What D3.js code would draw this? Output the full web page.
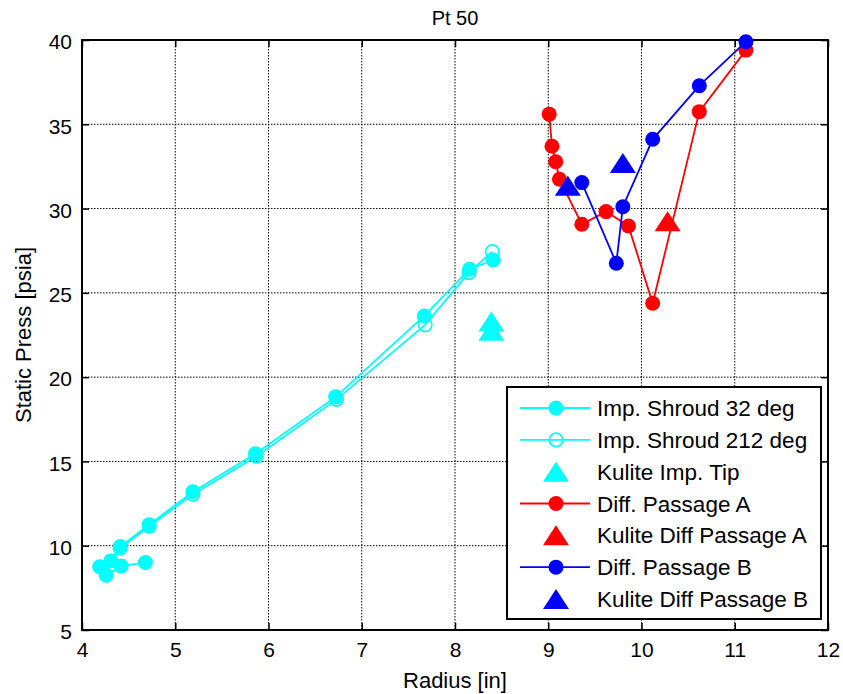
<!DOCTYPE html>
<html>
<head>
<meta charset="utf-8">
<script src="https://cdn.jsdelivr.net/npm/d3@7"></script>
<style>
  html, body { margin: 0; padding: 0; background: #fff; }
  svg { display: block; }
  text { font-family: "Liberation Sans", Arial, sans-serif; fill: #000; }
</style>
</head>
<body>
<svg id="chart" width="843" height="694"></svg>
<script>
// ---- Data ----
const xTicks = [4, 5, 6, 7, 8, 9, 10, 11, 12];
const yTicks = [5, 10, 15, 20, 25, 30, 35, 40];

const shroud32X = [4.68, 4.42, 4.26, 4.19, 4.31, 4.41, 4.72, 5.19, 5.86, 6.72, 7.67, 8.155, 8.41];
const shroud32Y = [9.0, 8.8, 8.25, 8.75, 9.1, 9.95, 11.25, 13.2, 15.45, 18.83, 23.63, 26.4, 26.95];

const shroud212X = [4.41, 4.72, 5.19, 5.87, 6.73, 7.68, 8.15, 8.40];
const shroud212Y = [9.85, 11.15, 13.05, 15.3, 18.68, 23.1, 26.2, 27.45];

const kuliteTipX = [8.39, 8.39];
const kuliteTipY = [23.3, 22.75];

const passAX = [9.01, 9.04, 9.08, 9.12, 9.36, 9.62, 9.86, 10.12, 10.62, 11.12];
const passAY = [35.6, 33.7, 32.78, 31.74, 29.07, 29.82, 28.97, 24.38, 35.75, 39.4];

const kuliteAX = [10.28];
const kuliteAY = [29.25];

const passBX = [9.36, 9.73, 9.80, 10.12, 10.62, 11.12];
const passBY = [31.54, 26.76, 30.11, 34.11, 37.29, 39.9];

const kuliteBX = [9.21, 9.80];
const kuliteBY = [31.35, 32.7];

const legendLabels = ["Imp. Shroud 32 deg", "Imp. Shroud 212 deg", "Kulite Imp. Tip",
  "Diff. Passage A", "Kulite Diff Passage A", "Diff. Passage B", "Kulite Diff Passage B"];

const CYAN = "#00ffff", RED = "#ff0000", BLUE = "#0000ff";
const FONT = 21;
const LABEL_FONT = 22;
const LEGEND_FONT = 22.5;

// ---- Layout ----
const svg = d3.select("#chart");
const L = 82, R = 828, T = 40, B = 630;
const x = d3.scaleLinear().domain([4, 12]).range([L, R]);
const y = d3.scaleLinear().domain([5, 40]).range([B, T]);

// grid
const grid = svg.append("g");
grid.selectAll(".gx").data(xTicks.slice(1, -1)).join("line")
  .attr("x1", d => x(d)).attr("x2", d => x(d)).attr("y1", T).attr("y2", B)
  .attr("stroke", "#000").attr("stroke-width", 1).attr("stroke-dasharray", "1.5,1.5");
grid.selectAll(".gy").data(yTicks.slice(1, -1)).join("line")
  .attr("y1", d => y(d)).attr("y2", d => y(d)).attr("x1", L).attr("x2", R)
  .attr("stroke", "#000").attr("stroke-width", 1).attr("stroke-dasharray", "1.5,1.5");

// axes (inward ticks) via d3 axes
const tickLen = 7;
const axB = svg.append("g").attr("transform", `translate(0,${B})`)
  .call(d3.axisBottom(x).tickValues(xTicks).tickSizeInner(-tickLen).tickSizeOuter(0).tickPadding(12).tickFormat(d3.format("d")));
const axT = svg.append("g").attr("transform", `translate(0,${T})`)
  .call(d3.axisTop(x).tickValues(xTicks).tickSizeInner(-tickLen).tickSizeOuter(0).tickFormat(""));
const axL = svg.append("g").attr("transform", `translate(${L},0)`)
  .call(d3.axisLeft(y).tickValues(yTicks).tickSizeInner(-tickLen).tickSizeOuter(0).tickPadding(10).tickFormat(d3.format("d")));
const axR = svg.append("g").attr("transform", `translate(${R},0)`)
  .call(d3.axisRight(y).tickValues(yTicks).tickSizeInner(-tickLen).tickSizeOuter(0).tickFormat(""));
[axB, axT, axL, axR].forEach(a => {
  a.select(".domain").remove();
  a.selectAll(".tick line").attr("stroke", "#000").attr("stroke-width", 1.5);
  a.selectAll("text").attr("font-size", FONT).attr("font-family", '"Liberation Sans", Arial, sans-serif').attr("fill", "#000");
});
axB.selectAll("text").attr("dy", "0.71em");
axL.selectAll("text").attr("dy", "0.42em");

// box
svg.append("rect").attr("x", L).attr("y", T).attr("width", R - L).attr("height", B - T)
  .attr("fill", "none").attr("stroke", "#000").attr("stroke-width", 2);

// titles
svg.append("text").attr("x", (L + R) / 2).attr("y", 25).attr("text-anchor", "middle")
  .attr("font-size", FONT - 1).text("Pt 50");
svg.append("text").attr("x", (L + R) / 2).attr("y", 688).attr("text-anchor", "middle")
  .attr("font-size", LABEL_FONT).text("Radius [in]");
svg.append("text").attr("transform", `translate(31,${(T + B) / 2}) rotate(-90)`).attr("text-anchor", "middle")
  .attr("font-size", LABEL_FONT).text("Static Press [psia]");

// marks
const plot = svg.append("g");
const line = d3.line().x(d => x(d[0])).y(d => y(d[1]));
const zip = (a, b) => a.map((v, i) => [v, b[i]]);
const triPath = (w, h) => `M0,${-h / 2}L${w / 2},${h / 2}L${-w / 2},${h / 2}Z`;
const TRI = triPath(26, 20);
const RAD = 7.5;

function series(xs, ys, color, opts) {
  const pts = zip(xs, ys);
  const g = plot.append("g");
  if (opts.line) {
    g.append("path").attr("d", line(pts)).attr("fill", "none").attr("stroke", color).attr("stroke-width", 1.8);
  }
  if (opts.marker === "circle") {
    g.selectAll("circle").data(pts).join("circle")
      .attr("cx", d => x(d[0])).attr("cy", d => y(d[1])).attr("r", RAD).attr("fill", color);
  } else if (opts.marker === "ring") {
    g.selectAll("circle").data(pts).join("circle")
      .attr("cx", d => x(d[0])).attr("cy", d => y(d[1])).attr("r", RAD - 0.8)
      .attr("fill", "none").attr("stroke", color).attr("stroke-width", 1.6);
  } else if (opts.marker === "tri") {
    g.selectAll("path.t").data(pts).join("path").attr("class", "t")
      .attr("transform", d => `translate(${x(d[0])},${y(d[1])})`).attr("d", TRI).attr("fill", color);
  }
}
series(shroud32X, shroud32Y, CYAN, { line: true, marker: "circle" });
series(shroud212X, shroud212Y, CYAN, { line: true, marker: "ring" });
series(kuliteTipX, kuliteTipY, CYAN, { line: false, marker: "tri" });
series(passAX, passAY, RED, { line: true, marker: "circle" });
series(kuliteAX, kuliteAY, RED, { line: false, marker: "tri" });
series(passBX, passBY, BLUE, { line: true, marker: "circle" });
series(kuliteBX, kuliteBY, BLUE, { line: false, marker: "tri" });

// legend
const legendSpec = [
  { c: CYAN, line: true, m: "circle" },
  { c: CYAN, line: true, m: "ring" },
  { c: CYAN, line: false, m: "tri" },
  { c: RED, line: true, m: "circle" },
  { c: RED, line: false, m: "tri" },
  { c: BLUE, line: true, m: "circle" },
  { c: BLUE, line: false, m: "tri" }
];
const lg = svg.append("g");
lg.append("rect").attr("x", 507).attr("y", 387).attr("width", 314).attr("height", 232)
  .attr("fill", "#fff").attr("stroke", "#000").attr("stroke-width", 2);
const ly = d3.scalePoint().domain(d3.range(legendLabels.length)).range([408, 599]);
legendLabels.forEach((lab, i) => {
  const s = legendSpec[i];
  const cy = ly(i);
  if (s.line) lg.append("line").attr("x1", 520).attr("x2", 590).attr("y1", cy).attr("y2", cy)
    .attr("stroke", s.c).attr("stroke-width", 1.8);
  if (s.m === "circle") lg.append("circle").attr("cx", 556).attr("cy", cy).attr("r", RAD).attr("fill", s.c);
  if (s.m === "ring") lg.append("circle").attr("cx", 556).attr("cy", cy).attr("r", RAD - 0.8)
    .attr("fill", "none").attr("stroke", s.c).attr("stroke-width", 1.6);
  if (s.m === "tri") lg.append("path").attr("transform", `translate(556,${cy})`).attr("d", TRI).attr("fill", s.c);
  lg.append("text").attr("x", 597).attr("y", cy).attr("dy", "0.36em").attr("font-size", LEGEND_FONT).text(lab);
});
</script>
</body>
</html>
